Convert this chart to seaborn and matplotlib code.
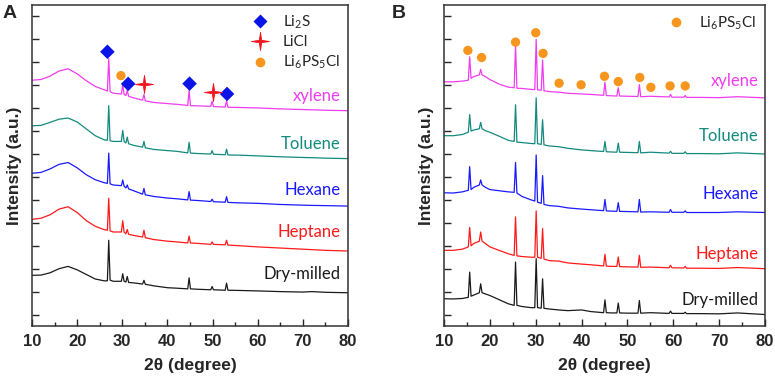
import numpy as np
import pandas as pd
import matplotlib
matplotlib.use('Agg')
import matplotlib.pyplot as plt
import seaborn as sns
from matplotlib.lines import Line2D
from matplotlib.path import Path
from matplotlib.ticker import MultipleLocator

sns.set_style('ticks')
plt.rcParams['font.family'] = ['Liberation Sans', 'DejaVu Sans']
plt.rcParams['mathtext.default'] = 'regular'

# ---- panel A data (2theta grid + offset intensities) ----
xa = [10, 12, 14, 16, 18, 20, 22, 24, 26, 26.7, 27.0, 27.3, 28, 29.8, 30.1, 30.4,
      30.8, 31.1, 31.4, 32.5, 34.5, 34.8, 35.1, 37, 40, 42, 44.5, 44.8, 45.1, 47,
      49.6, 49.9, 50.2, 52.8, 53.1, 53.4, 56, 60, 65, 70, 72, 75, 80]
a_dry = [1.71, 1.72, 1.82, 2.0, 2.1, 1.95, 1.75, 1.55, 1.47, 1.47, 3.24, 1.5, 1.45, 1.45, 1.78, 1.45,
         1.42, 1.66, 1.4, 1.38, 1.33, 1.49, 1.32, 1.25, 1.17, 1.15, 1.12, 1.6, 1.12, 1.1,
         1.08, 1.22, 1.08, 1.06, 1.37, 1.06, 1.05, 1.03, 1.0, 0.98, 1.0, 0.97, 0.95]
a_hep = [4.15, 4.2, 4.35, 4.6, 4.7, 4.45, 4.1, 3.85, 3.7, 3.68, 5.07, 3.65, 3.6, 3.6, 4.09, 3.6,
         3.52, 3.71, 3.5, 3.45, 3.38, 3.68, 3.35, 3.27, 3.2, 3.17, 3.12, 3.42, 3.12, 3.1,
         3.06, 3.17, 3.06, 3.04, 3.24, 3.03, 3.0, 2.95, 2.9, 2.85, 2.83, 2.8, 2.77]
a_hex = [6.16, 6.2, 6.35, 6.55, 6.63, 6.4, 6.1, 5.88, 5.75, 5.72, 7.04, 5.7, 5.65, 5.62, 5.87, 5.6,
         5.52, 5.65, 5.48, 5.4, 5.25, 5.5, 5.22, 5.15, 5.08, 5.05, 5.0, 5.36, 4.99, 4.97,
         4.93, 5.03, 4.92, 4.9, 5.14, 4.89, 4.87, 4.85, 4.8, 4.77, 4.76, 4.75, 4.73]
a_tol = [8.23, 8.25, 8.38, 8.52, 8.57, 8.4, 8.1, 7.8, 7.62, 7.6, 9.11, 7.58, 7.55, 7.55, 8.03, 7.55,
         7.48, 7.74, 7.45, 7.38, 7.3, 7.55, 7.27, 7.2, 7.15, 7.12, 7.05, 7.51, 7.04, 7.02,
         7.0, 7.15, 6.99, 6.97, 7.21, 6.96, 6.95, 6.92, 6.88, 6.85, 6.84, 6.82, 6.8]
a_xyl = [10.22, 10.25, 10.4, 10.62, 10.72, 10.5, 10.2, 9.95, 9.8, 9.75, 11.16, 9.72, 9.65, 9.62, 10.03, 9.6,
         9.55, 9.78, 9.52, 9.45, 9.35, 9.59, 9.32, 9.25, 9.2, 9.17, 9.12, 9.78, 9.11, 9.1,
         9.08, 9.3, 9.07, 9.05, 9.33, 9.04, 9.03, 9.01, 8.97, 8.94, 8.93, 8.91, 8.89]

# phase markers on xylene pattern (A)
li2s_x = [26.7, 31.3, 44.9, 53.2]
li2s_y = [11.46, 10.06, 10.07, 9.62]
licl_x = [34.8, 50.1]
licl_y = [10.06, 9.69]
lpsc_a_x = [29.7]
lpsc_a_y = [10.42]

# ---- panel B data ----
xb = [10, 12, 14, 15.3, 15.6, 15.9, 16.5, 17.7, 18.0, 18.3, 19, 20, 22, 24, 25.3, 25.6, 25.9,
      27, 29, 29.8, 30.1, 30.4, 31.2, 31.5, 31.8, 33, 35, 37, 40, 42, 44.8, 45.1, 45.4,
      46.5, 47.7, 48.0, 48.3, 50, 52.3, 52.6, 52.9, 55, 59.1, 59.4, 59.7, 62.3, 62.6, 62.9,
      66, 70, 74, 80]
b_dry = [0.69, 0.68, 0.7, 0.75, 1.85, 0.8, 0.85, 0.95, 1.34, 0.95, 0.9, 0.83, 0.65, 0.47, 0.4, 2.29, 0.4,
         0.35, 0.3, 0.3, 2.44, 0.3, 0.28, 1.56, 0.27, 0.24, 0.2, 0.17, 0.2, 0.13, 0.08, 0.64, 0.08,
         0.07, 0.07, 0.5, 0.07, 0.06, 0.06, 0.61, 0.06, 0.08, 0.05, 0.15, 0.05, 0.05, 0.1, 0.04,
         0.04, 0.03, 0.07, 0.0]
b_hep = [2.8, 2.8, 2.85, 2.95, 3.8, 3.0, 3.1, 3.2, 3.6, 3.2, 3.1, 2.95, 2.8, 2.65, 2.58, 4.26, 2.56,
         2.53, 2.5, 2.5, 4.52, 2.5, 2.45, 3.75, 2.42, 2.35, 2.33, 2.25, 2.2, 2.17, 2.12, 2.63, 2.11,
         2.1, 2.1, 2.51, 2.09, 2.08, 2.07, 2.58, 2.06, 2.07, 2.04, 2.15, 2.04, 2.03, 2.1, 2.02,
         2.02, 2.01, 2.05, 2.0]
b_hex = [5.31, 5.3, 5.35, 5.42, 6.45, 5.45, 5.55, 5.65, 5.87, 5.65, 5.55, 5.45, 5.4, 5.35, 5.33, 6.63, 5.3,
         5.15, 5.0, 4.95, 6.96, 4.9, 4.85, 6.06, 4.8, 4.75, 4.72, 4.65, 4.6, 4.57, 4.53, 5.02, 4.52,
         4.51, 4.5, 4.88, 4.5, 4.49, 4.48, 5.02, 4.47, 4.48, 4.46, 4.58, 4.46, 4.46, 4.52, 4.45,
         4.45, 4.45, 4.48, 4.45]
b_tol = [7.8, 7.8, 7.85, 7.95, 8.72, 8.0, 8.05, 8.1, 8.38, 8.1, 8.02, 7.95, 7.78, 7.6, 7.55, 9.15, 7.52,
         7.5, 7.46, 7.45, 9.45, 7.45, 7.42, 8.5, 7.4, 7.35, 7.32, 7.25, 7.18, 7.15, 7.11, 7.55, 7.1,
         7.09, 7.08, 7.48, 7.08, 7.07, 7.06, 7.55, 7.05, 7.08, 7.04, 7.12, 7.03, 7.03, 7.1, 7.02,
         7.02, 7.01, 7.05, 7.0]
b_xyl = [10.15, 10.15, 10.18, 10.22, 11.24, 10.3, 10.38, 10.45, 10.69, 10.45, 10.38, 10.25, 10.05, 9.92, 9.89, 11.74, 9.87,
         9.86, 9.82, 9.81, 12.0, 9.8, 9.78, 11.1, 9.76, 9.72, 9.7, 9.65, 9.62, 9.6, 9.56, 10.13, 9.55,
         9.54, 9.53, 9.89, 9.53, 9.52, 9.51, 10.03, 9.5, 9.52, 9.49, 9.6, 9.48, 9.48, 9.55, 9.47,
         9.47, 9.46, 9.5, 9.45]

lpsc_b_x = [15.2, 18.2, 25.6, 30.0, 31.6, 35.1, 39.9, 45.0, 48.0, 52.7, 55.1, 59.3, 62.6]
lpsc_b_y = [11.52, 11.21, 11.88, 12.29, 11.39, 10.09, 10.02, 10.39, 10.16, 10.34, 9.91, 9.97, 9.97]

samples = ['Dry-milled', 'Heptane', 'Hexane', 'Toluene', 'xylene']
colors = ['#1a1a1a', '#ff1a1a', '#1a1aff', '#138a7e', '#f03cf0']
label_ya = [1.78, 3.6, 5.43, 7.45, 9.55]
label_yb = [0.64, 2.66, 5.26, 7.77, 10.18]

C_DIA = '#0a14e6'
C_STAR = '#f0141e'
C_DOT = '#f7961e'

# thin four-pointed star like the LiCl symbol
star4 = Path([(0, 1), (0.13, 0.13), (1, 0), (0.13, -0.13), (0, -1), (-0.13, -0.13),
              (-1, 0), (-0.13, 0.13), (0, 1)], closed=True)

fig = plt.figure(figsize=(7.75, 3.83), dpi=100)
axA = fig.add_axes([32 / 775, 57 / 383, 316 / 775, 321 / 383])
axB = fig.add_axes([444 / 775, 57 / 383, 321 / 775, 321 / 383])

lab_font = ['Lato', 'DejaVu Sans']


def style_axis(ax):
    ax.set_xlim(10, 80)
    ax.set_ylim(-0.5, 13.5)
    ax.xaxis.set_major_locator(MultipleLocator(10))
    ax.xaxis.set_minor_locator(MultipleLocator(5))
    ax.yaxis.set_major_locator(MultipleLocator(2))
    ax.yaxis.set_minor_locator(MultipleLocator(1))
    ax.set_yticklabels([])
    ax.tick_params(axis='both', which='both', direction='in', top=False, right=False)
    ax.tick_params(axis='x', which='major', length=5, width=1, labelsize=12, pad=6)
    ax.tick_params(axis='x', which='minor', length=3, width=1)
    ax.tick_params(axis='y', which='major', length=5, width=1)
    ax.tick_params(axis='y', which='minor', length=5, width=1)
    for lab in ax.get_xticklabels():
        lab.set_fontweight('bold')
    for s in ax.spines.values():
        s.set_linewidth(1.1)
        s.set_color('#333333')
    ax.set_xlabel('2θ (degree)', fontsize=12.5, fontweight='bold', labelpad=6)
    ax.set_ylabel('Intensity (a.u.)', fontsize=12.5, fontweight='bold', labelpad=4)


# panel A
for ys, c in zip([a_dry, a_hep, a_hex, a_tol, a_xyl], colors):
    sns.lineplot(x=xa, y=ys, ax=axA, color=c, lw=0.9)
for name, c, ly in zip(samples, colors, label_ya):
    axA.text(78.3, ly, name, color=c, fontsize=12, ha='right', va='center', family=lab_font)
sns.scatterplot(x=li2s_x, y=li2s_y, ax=axA, marker='D', s=55, color=C_DIA, edgecolor='none', zorder=5)
sns.scatterplot(x=licl_x, y=licl_y, ax=axA, marker=star4, s=170, color=C_STAR, edgecolor=C_STAR,
                linewidth=0.6, zorder=5)
sns.scatterplot(x=lpsc_a_x, y=lpsc_a_y, ax=axA, marker='o', s=45, color=C_DOT, edgecolor='none', zorder=5)
handles = [Line2D([], [], ls='none', marker='D', ms=7, color=C_DIA, mec='none'),
           Line2D([], [], ls='none', marker=star4, ms=13, color=C_STAR, mec=C_STAR, mew=0.6),
           Line2D([], [], ls='none', marker='o', ms=7, color=C_DOT, mec='none')]
axA.legend(handles, ['Li$_2$S', 'LiCl', 'Li$_6$PS$_5$Cl'], loc='upper right', frameon=False,
           prop={'family': lab_font, 'size': 11}, handletextpad=0.5, labelspacing=0.3,
           borderaxespad=0.15)
style_axis(axA)

# panel B
for ys, c in zip([b_dry, b_hep, b_hex, b_tol, b_xyl], colors):
    sns.lineplot(x=xb, y=ys, ax=axB, color=c, lw=0.9)
for name, c, ly in zip(samples, colors, label_yb):
    axB.text(78.6, ly, name, color=c, fontsize=12, ha='right', va='center', family=lab_font)
sns.scatterplot(x=lpsc_b_x, y=lpsc_b_y, ax=axB, marker='o', s=45, color=C_DOT, edgecolor='none', zorder=5)
axB.legend([Line2D([], [], ls='none', marker='o', ms=7, color=C_DOT, mec='none')], ['Li$_6$PS$_5$Cl'],
           loc='upper right', frameon=False, prop={'family': lab_font, 'size': 11},
           handletextpad=0.5, borderaxespad=0.2)
style_axis(axB)

fig.text(3 / 775, 1 - 13 / 383, 'A', fontsize=14, fontweight='bold', va='center', ha='left')
fig.text(392 / 775, 1 - 13 / 383, 'B', fontsize=14, fontweight='bold', va='center', ha='left')

fig.savefig('out.png', dpi=100)
